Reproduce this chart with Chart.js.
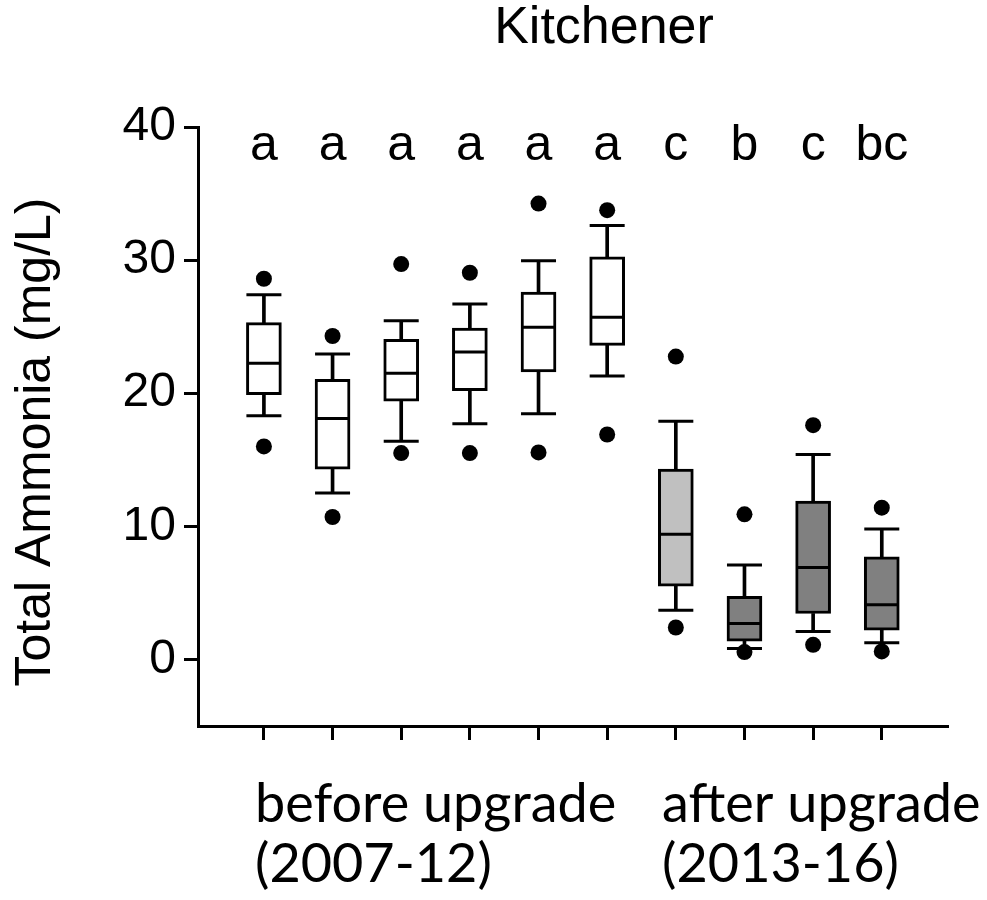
<!DOCTYPE html>
<html>
<head>
<meta charset="utf-8">
<script src="https://cdn.jsdelivr.net/npm/chart.js@4.4.0/dist/chart.umd.min.js"></script>
<style>
  html, body { margin: 0; padding: 0; background: #fff; }
  #wrap { width: 987px; height: 900px; }
</style>
</head>
<body>
<div id="wrap"><canvas id="chart"></canvas></div>
<script>
// box plot values (mg/L)
const categories = [1, 2, 3, 4, 5, 6, 7, 8, 9, 10];
const letters = ['a', 'a', 'a', 'a', 'a', 'a', 'c', 'b', 'c', 'bc'];
const whiskerLow = [18.3, 12.5, 16.4, 17.7, 18.45, 21.3, 3.7, 0.83, 2.1, 1.25];
const q1 = [19.9, 14.3, 19.4, 20.2, 21.6, 23.6, 5.5, 1.37, 3.45, 2.2];
const median = [22.25, 18.1, 21.5, 23.1, 24.95, 25.7, 9.4, 2.7, 6.9, 4.1];
const q3 = [25.3, 21.05, 24.05, 24.9, 27.6, 30.25, 14.3, 4.75, 11.9, 7.7];
const whiskerHigh = [27.4, 22.95, 25.45, 26.7, 29.95, 32.6, 17.9, 7.1, 15.4, 9.8];
const outlierLow = [16.0, 10.7, 15.5, 15.5, 15.55, 16.9, 2.4, 0.55, 1.1, 0.6];
const outlierHigh = [28.6, 24.3, 29.7, 29.05, 34.25, 33.75, 22.75, 10.9, 17.6, 11.4];
const yTicks = [0, 10, 20, 30, 40];
const periodLabels = [['before upgrade', '(2007-12)'], ['after upgrade', '(2013-16)']];

const fillFor = (i) => (i < 6 ? '#ffffff' : i === 6 ? '#c0c0c0' : '#808080');

const whiskerUp = categories.map((c, i) => ({ x: c, y: [q3[i], whiskerHigh[i]] }));
const whiskerDown = categories.map((c, i) => ({ x: c, y: [whiskerLow[i], q1[i]] }));
const boxes = categories.map((c, i) => ({ x: c, y: [q1[i], q3[i]] }));
const medians = categories.map((c, i) => ({ x: c, y: median[i] }));
const caps = categories.map((c, i) => ({ x: c, y: whiskerLow[i] }))
  .concat(categories.map((c, i) => ({ x: c, y: whiskerHigh[i] })));
const outliers = categories.map((c, i) => ({ x: c, y: outlierLow[i] }))
  .concat(categories.map((c, i) => ({ x: c, y: outlierHigh[i] })));

const textPlugin = {
  id: 'texts',
  afterDraw(chart) {
    const { ctx, chartArea, scales } = chart;
    const xs = scales.x, ys = scales.y;
    ctx.save();
    ctx.fillStyle = '#000';

    // title
    ctx.font = '52px "Liberation Sans", Arial, sans-serif';
    ctx.textAlign = 'center';
    ctx.textBaseline = 'alphabetic';
    ctx.fillText('Kitchener', 604, 43);

    // significance letters
    ctx.font = '50px "Liberation Sans", Arial, sans-serif';
    categories.forEach((c, i) => {
      ctx.fillText(letters[i], xs.getPixelForValue(c), ys.getPixelForValue(37.5));
    });

    // y axis title
    ctx.save();
    ctx.translate(36, 442);
    ctx.rotate(-Math.PI / 2);
    ctx.textBaseline = 'middle';
    ctx.font = '50px "Liberation Sans", Arial, sans-serif';
    ctx.fillText('Total Ammonia (mg/L)', 0, 0);
    ctx.restore();

    // period labels under the axis
    ctx.textAlign = 'left';
    ctx.font = '54px Lato, "Open Sans", sans-serif';
    const starts = [0.87, 6.8];
    periodLabels.forEach((lines, k) => {
      const x = xs.getPixelForValue(starts[k]);
      lines.forEach((t, j) => ctx.fillText(t, x, chartArea.bottom + 96 + j * 60));
    });
    ctx.restore();
  }
};

const axisLine = { display: true, color: '#000', width: 3 };
const tickMarks = { drawOnChartArea: false, drawTicks: true, tickLength: 14, color: '#000', lineWidth: 3, offset: false };

new Chart(document.getElementById('chart'), {
  type: 'bar',
  data: {
    datasets: [
      { type: 'scatter', data: outliers, pointStyle: 'circle', pointRadius: 8,
        backgroundColor: '#000', borderWidth: 0, order: 0 },
      { type: 'scatter', data: medians, pointStyle: 'line', pointRadius: 16,
        borderColor: '#000', pointBorderWidth: 3, order: 1 },
      { type: 'scatter', data: caps, pointStyle: 'line', pointRadius: 17.5,
        borderColor: '#000', pointBorderWidth: 3, order: 1 },
      { data: boxes, grouped: false, barThickness: 35, borderWidth: 3, borderColor: '#000',
        borderSkipped: false, backgroundColor: boxes.map((b, i) => fillFor(i)), order: 2 },
      { data: whiskerUp, grouped: false, barThickness: 3, backgroundColor: '#000', borderWidth: 0, order: 3 },
      { data: whiskerDown, grouped: false, barThickness: 3, backgroundColor: '#000', borderWidth: 0, order: 3 }
    ]
  },
  options: {
    responsive: true,
    maintainAspectRatio: false,
    animation: false,
    events: [],
    layout: { padding: { top: 127, right: 40, bottom: 0, left: 0 } },
    plugins: { legend: { display: false }, tooltip: { enabled: false }, title: { display: false } },
    scales: {
      x: {
        type: 'linear',
        offset: false,
        min: 0.04,
        max: 10.95,
        afterBuildTicks: (s) => { s.ticks = categories.map((v) => ({ value: v })); },
        afterFit: (s) => { s.height = 174; },
        ticks: { callback: () => '' },
        grid: tickMarks,
        border: axisLine
      },
      y: {
        type: 'linear',
        min: -5,
        max: 40,
        afterBuildTicks: (s) => { s.ticks = yTicks.map((v) => ({ value: v })); },
        afterFit: (s) => { s.width = 198; },
        ticks: { color: '#000', padding: 8, font: { family: '"Liberation Sans", Arial, sans-serif', size: 48 } },
        grid: tickMarks,
        border: axisLine
      }
    }
  },
  plugins: [textPlugin]
});
</script>
</body>
</html>
